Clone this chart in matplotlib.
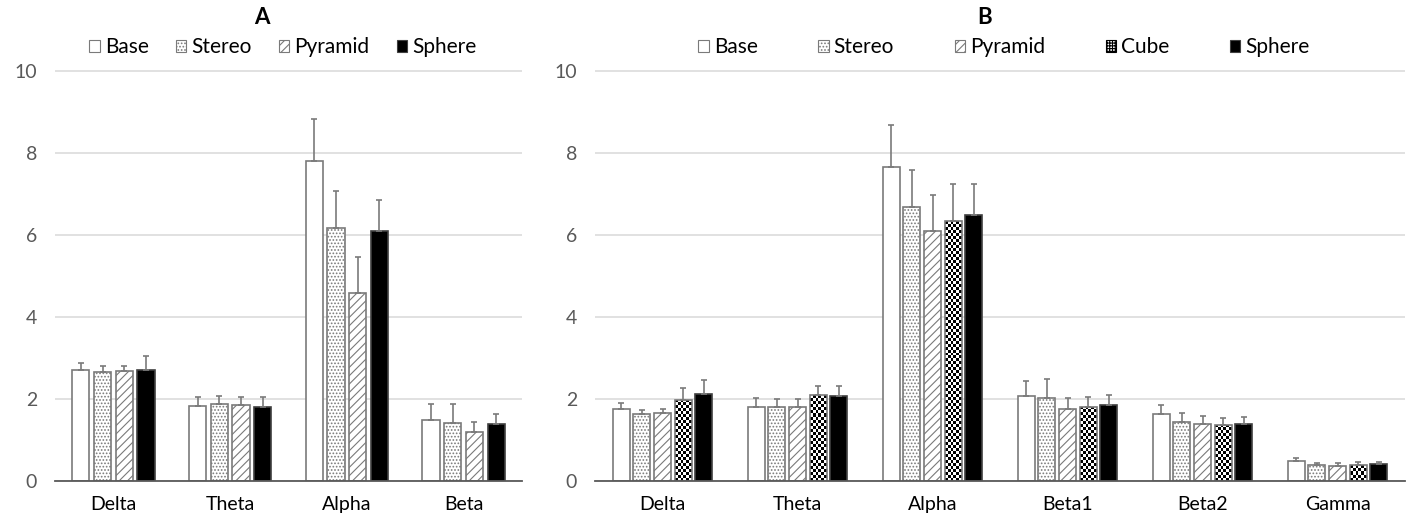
import numpy as np
import matplotlib
matplotlib.use("Agg")
import matplotlib.pyplot as plt
from matplotlib.patches import Patch

plt.rcParams['font.family'] = ['Lato', 'DejaVu Sans']
plt.rcParams['hatch.linewidth'] = 0.8

# ---------------- data ----------------
cats_a = ["Delta", "Theta", "Alpha", "Beta"]
series_a = ["Base", "Stereo", "Pyramid", "Sphere"]
base_a = [2.71, 1.83, 7.81, 1.49]
base_a_err = [0.15, 0.20, 1.01, 0.38]
stereo_a = [2.65, 1.88, 6.16, 1.41]
stereo_a_err = [0.14, 0.18, 0.91, 0.46]
pyramid_a = [2.67, 1.84, 4.58, 1.18]
pyramid_a_err = [0.12, 0.19, 0.88, 0.25]
sphere_a = [2.71, 1.79, 6.09, 1.39]
sphere_a_err = [0.34, 0.24, 0.76, 0.24]

cats_b = ["Delta", "Theta", "Alpha", "Beta1", "Beta2", "Gamma"]
series_b = ["Base", "Stereo", "Pyramid", "Cube", "Sphere"]
base_b = [1.75, 1.81, 7.65, 2.06, 1.62, 0.47]
base_b_err = [0.14, 0.21, 1.04, 0.37, 0.23, 0.08]
stereo_b = [1.62, 1.79, 6.67, 2.02, 1.44, 0.39]
stereo_b_err = [0.11, 0.21, 0.91, 0.46, 0.21, 0.04]
pyramid_b = [1.66, 1.79, 6.10, 1.75, 1.38, 0.37]
pyramid_b_err = [0.10, 0.21, 0.87, 0.27, 0.19, 0.06]
cube_b = [1.98, 2.08, 6.34, 1.81, 1.37, 0.39]
cube_b_err = [0.29, 0.23, 0.89, 0.24, 0.16, 0.06]
sphere_b = [2.12, 2.06, 6.48, 1.84, 1.38, 0.41]
sphere_b_err = [0.34, 0.25, 0.77, 0.25, 0.17, 0.04]

yticks = [0, 2, 4, 6, 8, 10]

# ---------------- styles ----------------
EDGE = '#7a7a7a'
STY = {
    "Base": dict(facecolor='white', edgecolor=EDGE, hatch=None),
    "Stereo": dict(facecolor='white', edgecolor=EDGE, hatch='.....'),
    "Pyramid": dict(facecolor='white', edgecolor=EDGE, hatch='////'),
    "Cube": dict(facecolor='none', edgecolor=EDGE, hatch=None),
    "Sphere": dict(facecolor='black', edgecolor='#404040', hatch=None),
}

W, H = 1413, 523
fig = plt.figure(figsize=(W / 100, H / 100), dpi=100)

bottom = (H - 480.7) / H
height = (480.7 - 70) / H
axA = fig.add_axes([55 / W, bottom, 467 / W, height])
axB = fig.add_axes([595 / W, bottom, 810 / W, height])


def style_axes(ax, cats):
    ax.set_xlim(-0.5, len(cats) - 0.5)
    ax.set_ylim(0, 10.02)
    ax.set_yticks(yticks)
    ax.set_yticklabels([str(t) for t in yticks])
    ax.set_xticks(range(len(cats)))
    ax.set_xticklabels(cats)
    for s in ['top', 'right', 'left']:
        ax.spines[s].set_visible(False)
    ax.spines['bottom'].set_color('#595959')
    ax.spines['bottom'].set_linewidth(1.3)
    ax.spines['bottom'].set_zorder(5)
    ax.grid(axis='y', color='#d9d9d9', linewidth=1.1)
    ax.set_axisbelow(True)
    ax.tick_params(axis='y', length=0, pad=13, labelsize=14, labelcolor='#595959')
    ax.tick_params(axis='x', length=0, pad=11, labelsize=14, labelcolor='black')


def checker_fill(ax, bar, ppu_x, ppu_y):
    x0 = bar.get_x()
    w = bar.get_width()
    h = bar.get_height()
    nx = max(1, int(round(w * ppu_x / 3.0)))
    ny = max(1, int(round(h * ppu_y / 3.0)))
    arr = (np.add.outer(np.arange(ny), np.arange(nx)) % 2).astype(float)
    im = ax.imshow(arr, extent=(x0, x0 + w, 0, h), cmap='gray', vmin=0, vmax=1,
                   interpolation='nearest', aspect='auto', zorder=1.5, origin='lower')
    im.set_clip_path(bar)


def draw(ax, cats, names, vals, errs, step, width, axw_px):
    style_axes(ax, cats)
    n = len(names)
    x = np.arange(len(cats))
    ppu_x = axw_px / len(cats)
    ppu_y = (480.7 - 70) / 10.02
    for i, (name, v, e) in enumerate(zip(names, vals, errs)):
        off = (i - (n - 1) / 2) * step
        st = STY[name]
        bars = ax.bar(x + off, v, width, facecolor=st['facecolor'], edgecolor=st['edgecolor'],
                      hatch=st['hatch'], linewidth=1.2, zorder=2)
        if name == "Cube":
            for b in bars:
                checker_fill(ax, b, ppu_x, ppu_y)
        ax.errorbar(x + off, v, yerr=[np.zeros(len(v)), e], fmt='none', ecolor='#7a7a7a',
                    elinewidth=1.2, capsize=2.5, capthick=1.2, zorder=3)
    ax.set_xlim(-0.5, len(cats) - 0.5)
    ax.set_ylim(0, 10.02)


draw(axA, cats_a, series_a, [base_a, stereo_a, pyramid_a, sphere_a],
     [base_a_err, stereo_a_err, pyramid_a_err, sphere_a_err], 0.186, 0.148, 467)
draw(axB, cats_b, series_b, [base_b, stereo_b, pyramid_b, cube_b, sphere_b],
     [base_b_err, stereo_b_err, pyramid_b_err, cube_b_err, sphere_b_err], 0.153, 0.124, 810)


def handles(names):
    hs = []
    for nm in names:
        st = STY[nm]
        if nm == "Cube":
            hs.append(Patch(facecolor='white', edgecolor='black', hatch='++++++', linewidth=0.8, label=nm))
        else:
            hs.append(Patch(facecolor=st['facecolor'], edgecolor=st['edgecolor'], hatch=st['hatch'],
                            linewidth=0.8, label=nm))
    return hs


fig.legend(handles=handles(series_a), loc='center', bbox_to_anchor=(283 / W, 1 - 47 / H),
           ncol=4, frameon=False, fontsize=15, handlelength=0.5, handleheight=0.5,
           handletextpad=0.25, columnspacing=1.3, borderpad=0)
fig.legend(handles=handles(series_b), loc='center', bbox_to_anchor=(1004 / W, 1 - 47 / H),
           ncol=5, frameon=False, fontsize=15, handlelength=0.5, handleheight=0.5,
           handletextpad=0.25, columnspacing=2.9, borderpad=0)

fig.text(262 / W, 1 - 18 / H, "A", ha='center', va='center', fontsize=16, fontweight='bold')
fig.text(985 / W, 1 - 18 / H, "B", ha='center', va='center', fontsize=16, fontweight='bold')

fig.savefig("out.png", dpi=100)
